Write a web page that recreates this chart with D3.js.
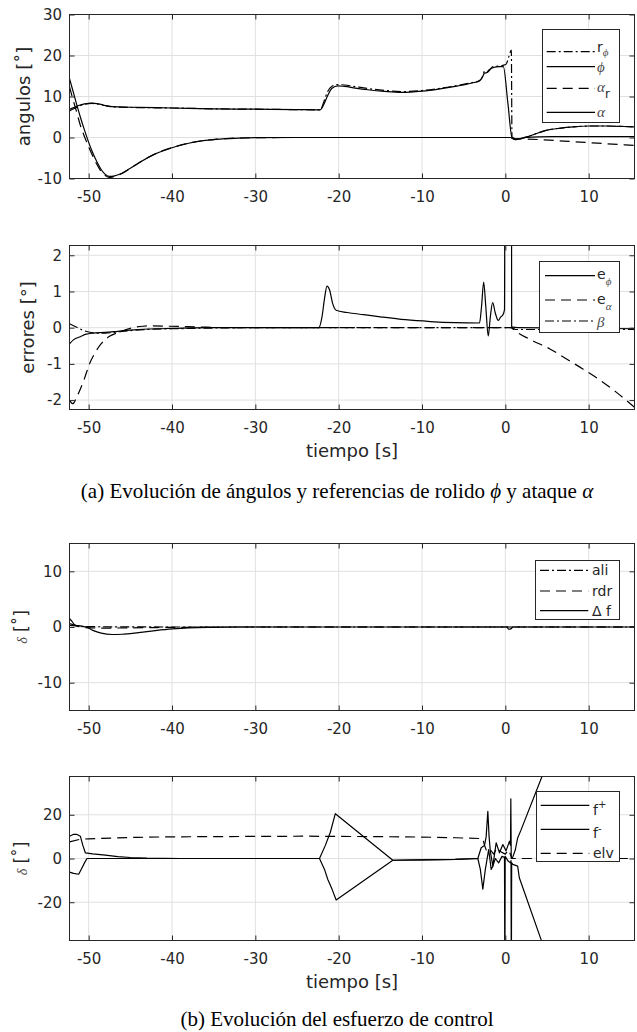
<!DOCTYPE html>
<html lang="es">
<head>
<meta charset="utf-8">
<title>Evolución de ángulos y esfuerzo de control</title>
<script src="https://cdn.jsdelivr.net/npm/d3@7/dist/d3.min.js"></script>
<style>
  html, body { margin: 0; padding: 0; background: #fff; }
  svg { display: block; }
</style>
</head>
<body>
<svg id="fig" width="637" height="1032"></svg>
<script>
// ---------- shared time axis [s] ----------
const timeDomain = [-52.3, 15.5];
const timeTicks = [-50, -40, -30, -20, -10, 0, 10];

// ---------- (a) top: roll / attack angles and references [deg] ----------
const angleTicks = [-10, 0, 10, 20, 30];
const rPhi = [[-52.3, 6.5], [-51.8, 7.0], [-51.2, 7.6], [-50.5, 8.1], [-49.6, 8.3], [-48.7, 8.1], [-47.8, 7.65], [-46.5, 7.4], [-44, 7.3], [-40, 7.2], [-35, 7.0], [-30, 6.9], [-25, 6.8], [-22.2, 6.75], [-21.8, 8.6], [-21.3, 11.3], [-20.8, 12.5], [-20.1, 12.9], [-19.3, 12.8], [-18, 12.4], [-16.5, 11.95], [-14.5, 11.5], [-12.5, 11.2], [-10, 11.45], [-8, 11.95], [-6, 12.6], [-4, 13.4], [-3.1, 13.9], [-2.7, 15.0], [-2.5, 16.2], [-2.2, 15.9], [-1.9, 16.4], [-1.5, 17.3], [-0.9, 17.4], [-0.3, 17.6], [0.1, 17.9], [0.4, 19.6], [0.72, 21.3], [0.8, 0.1], [1.2, -0.4], [1.7, -0.3], [2.5, 0.1], [3.5, 0.8], [4.5, 1.5], [5.3, 1.9], [6.3, 2.2], [7.3, 2.45], [8.5, 2.65], [10, 2.8], [12, 2.8], [14, 2.7], [15.5, 2.6]];
const phi = [[-52.3, 6.9], [-51.8, 7.3], [-51.2, 7.8], [-50.5, 8.2], [-49.6, 8.4], [-48.7, 8.15], [-47.8, 7.7], [-46.5, 7.45], [-44, 7.35], [-40, 7.2], [-35, 7.0], [-30, 6.9], [-25, 6.8], [-22.2, 6.75], [-21.8, 8.0], [-21.3, 10.3], [-20.8, 12.0], [-20.1, 12.6], [-19.3, 12.45], [-18, 12.05], [-16.5, 11.65], [-14.5, 11.25], [-12.5, 11.0], [-10, 11.3], [-8, 11.8], [-6, 12.45], [-4, 13.3], [-3.1, 13.8], [-2.8, 14.5], [-2.5, 15.7], [-2.25, 15.8], [-2.0, 16.4], [-1.5, 17.0], [-0.7, 17.3], [-0.24, 17.3], [0.3, 8.5], [0.8, 0.0], [1.2, -0.4], [1.7, -0.3], [2.5, 0.1], [3.5, 0.8], [4.5, 1.5], [5.3, 1.9], [6.3, 2.2], [7.3, 2.45], [8.5, 2.65], [10, 2.8], [12, 2.8], [14, 2.7], [15.5, 2.6]];
const alphaR = [[-52.3, 12.4], [-52, 10.1], [-51.5, 6.6], [-51, 3.0], [-50.5, 0.2], [-50, -2.3], [-49.5, -4.6], [-49, -6.6], [-48.5, -8.3], [-48, -9.3], [-47.5, -9.75], [-47, -9.55], [-46, -8.8], [-45, -7.55], [-44, -6.2], [-42, -3.95], [-40, -2.46], [-38, -1.38], [-36, -0.68], [-34, -0.34], [-30, -0.04], [-25, 0], [0.8, 0], [1.2, -0.3], [2, -0.35], [4, -0.5], [6, -0.75], [8, -1.0], [10, -1.25], [12, -1.5], [14, -1.75], [15.5, -1.95]];
const alpha = [[-52.3, 14.4], [-52, 12.2], [-51.5, 8.5], [-51, 5.0], [-50.5, 1.8], [-50, -1.2], [-49.5, -3.8], [-49, -6.0], [-48.5, -7.8], [-48, -9.0], [-47.5, -9.5], [-47, -9.4], [-46, -8.7], [-45, -7.5], [-44, -6.2], [-42, -4.0], [-40, -2.5], [-38, -1.4], [-36, -0.7], [-34, -0.35], [-32, -0.15], [-30, -0.05], [-25, 0], [0.6, 0], [0.8, -0.2], [1.2, -0.5], [1.7, -0.3], [2.5, 0.0], [4, 0.15], [7, 0.2], [15.5, 0.2]];

// ---------- (a) bottom: tracking errors and sideslip [deg] ----------
const errorTicks = [-2, -1, 0, 1, 2];
const ePhi = [[-52.3, -0.45], [-51.8, -0.33], [-51, -0.25], [-50.3, -0.18], [-49.5, -0.15], [-48, -0.13], [-46.5, -0.1], [-45, -0.07], [-42, -0.03], [-40, -0.02], [-35, 0], [-22.4, 0], [-22.0, 0.3], [-21.7, 0.8], [-21.4, 1.15], [-21.1, 1.05], [-20.7, 0.65], [-20.3, 0.48], [-19, 0.42], [-17, 0.36], [-15, 0.3], [-12, 0.22], [-9, 0.17], [-6, 0.14], [-3.1, 0.13], [-2.85, 0.6], [-2.6, 1.26], [-2.35, 0.6], [-2.05, -0.23], [-1.8, 0.3], [-1.52, 0.69], [-1.2, 0.4], [-0.85, 0.2], [-0.55, 0.3], [-0.3, 0.35], [-0.1, 0.5], [0.0, 12], [0.7, 12], [0.76, 0.02], [1.5, 0], [15.5, -0.03]];
const eAlpha = [[-52.3, -2.0], [-51.9, -2.1], [-51.5, -1.95], [-51.1, -1.75], [-50.5, -1.4], [-49.9, -1.0], [-49.3, -0.72], [-48.7, -0.5], [-48.1, -0.35], [-47.5, -0.24], [-46.3, -0.12], [-45.5, -0.05], [-44.7, 0.0], [-43.5, 0.04], [-42.7, 0.05], [-40.3, 0.04], [-37, 0.02], [-33, 0.0], [0.7, 0], [0.85, -0.02], [1.1, -0.07], [3.2, -0.35], [5.3, -0.58], [7.3, -0.86], [9.3, -1.14], [11.3, -1.44], [13.3, -1.78], [15.5, -2.2]];
const beta = [[-52.3, 0.11], [-51.5, 0.02], [-50.8, -0.06], [-50, -0.12], [-49, -0.15], [-48, -0.15], [-47, -0.13], [-46, -0.1], [-45, -0.08], [-42, -0.04], [-40, -0.03], [-35, -0.01], [-30, 0], [0.8, 0], [1.2, -0.05], [15.5, -0.05]];

// ---------- (b) top: aileron, rudder and differential flap [deg] ----------
const surfaceTicks = [-10, 0, 10];
const ali = [[-52.3, 0.6], [-51.8, 0.4], [-51, 0.1], [-49, 0.05], [-45, 0.02], [-40, 0], [15.5, 0]];
const rdr = [[-52.3, 0.3], [-51.5, 0.2], [-50.5, -0.1], [-48, -0.2], [-45, -0.15], [-42, -0.1], [-38, -0.05], [-34, 0], [15.5, 0]];
const deltaF = [[-52.3, 1.5], [-52, 1.0], [-51.6, 0.3], [-51, 0.2], [-50.3, 0], [-49.5, -0.6], [-48.5, -1.1], [-47.2, -1.35], [-46, -1.3], [-44, -1.0], [-42, -0.65], [-40, -0.35], [-38, -0.15], [-35, -0.05], [-32, 0], [0.2, 0], [0.4, -0.4], [0.7, -0.3], [0.9, 0], [15.5, 0]];

// ---------- (b) bottom: flaps and elevator [deg] ----------
const flapTicks = [-20, 0, 20];
const fPlus = [[-52.3, 10.2], [-51.8, 11.1], [-51.4, 11.0], [-51.0, 10.2], [-50.7, 6], [-50.4, 2.6], [-49.5, 2.1], [-48, 1.5], [-46.5, 0.9], [-45, 0.45], [-43, 0.15], [-41, 0.03], [-39, 0], [-22.3, 0], [-21.6, 6], [-21.0, 12], [-20.4, 20.5], [-13.5, -0.8], [-10, -0.6], [-6, -0.4], [-3.3, 0], [-2.9, 4.9], [-2.5, 5.9], [-2.3, 10], [-2.1, 21.6], [-1.95, 10], [-1.8, 3.3], [-1.5, -3.5], [-1.1, 7.2], [-0.7, 2.6], [-0.3, 6.4], [0.08, 3.5], [0.5, 7.9], [0.62, 6], [0.66, 27.3], [0.71, 0], [0.88, 0.5], [1.2, 4], [1.48, 9.4], [1.9, 13.2], [4.4, 37.5], [5, 43]];
const fMinus = [[-52.3, -6.2], [-51.8, -6.8], [-51.2, -7.2], [-50.9, -5], [-50.5, -2], [-50.2, 0], [-22.3, 0], [-21.7, -5], [-21.3, -9.6], [-20.8, -14], [-20.3, -19], [-13.5, -0.8], [-10, -0.6], [-6, -0.4], [-3.3, 0], [-3.0, -5], [-2.7, -14], [-2.4, -5], [-2.0, 4.1], [-1.7, -5], [-1.5, -3.5], [-1.2, 0], [-0.8, -2], [-0.4, 1], [-0.1, 0.5], [-0.06, -60], [-0.02, 1], [0.3, -1], [0.6, -2], [0.68, -1], [0.72, -60], [0.76, -2], [0.9, -2.7], [1.48, -3.5], [1.68, -8.8], [4.28, -37], [5, -45]];
const elv = [[-52.3, 7.6], [-51, 8.8], [-50, 9.0], [-47, 9.4], [-44, 9.7], [-40, 9.9], [-35, 10.0], [-30, 10.1], [-24, 10.2], [-20, 10.1], [-15, 10.0], [-10, 9.8], [-6, 9.5], [-2.7, 9.1], [-2.5, 6], [-2.2, 3], [-1.8, 4], [-1.4, 2], [-1.0, 5], [-0.5, 3], [0.0, 2], [0.4, 4], [0.8, 0], [15.5, 0]];

// ---------- styling ----------
const SANS = "'DejaVu Sans', Verdana, sans-serif";
const SERIF = "'Liberation Serif', 'DejaVu Serif', serif";
const INK = '#262626';
const GREEK = '#4a4a4a';
const GRID = '#e0e0e0';
const DASH = '10,6';
const DASHDOT = '9,3,2,3';
const PLOT_LEFT = 69.5, PLOT_RIGHT = 634.5, TICK = 5;

const svg = d3.select('#fig');
const x = d3.scaleLinear().domain(timeDomain).range([PLOT_LEFT, PLOT_RIGHT]);

// writes a run of text pieces (plain, greek italic, sub/superscript) into a <text>
function writeParts(textSel, parts, baseY) {
  parts.forEach(p => {
    const ts = textSel.append('tspan')
      .attr('font-family', p.g ? SERIF : SANS)
      .attr('font-style', p.g ? 'italic' : null)
      .attr('fill', p.g ? GREEK : INK)
      .text(p.t);
    if (p.s) ts.attr('font-size', p.s);
    if (baseY !== undefined) ts.attr('y', baseY + (p.dy || 0));
  });
}

const panels = [
  {
    top: 14.5, bottom: 178.5, yDomain: [-10, 30], yTicks: angleTicks,
    yLabel: [{ t: 'angulos [˚]' }], yLabelX: 30, yLabelSize: 18,
    timeLabel: false, curve: d3.curveMonotoneX,
    series: [
      { data: rPhi, dash: DASHDOT, parts: [{ t: 'r' }, { t: 'ϕ', g: true, s: 11, dy: 4 }], ly: 51.7, ty: 51.5 },
      { data: phi, parts: [{ t: 'ϕ', g: true, s: 15 }], ly: 66.7, ty: 71.5 },
      { data: alphaR, dash: DASH, parts: [{ t: 'α', g: true, s: 15 }, { t: 'r', s: 12, dy: 5.5 }], ly: 88.3, ty: 92.3 },
      { data: alpha, parts: [{ t: 'α', g: true, s: 15 }], ly: 112.3, ty: 117 }
    ],
    legend: { box: [542.5, 29.5, 619.5, 122.5], line: [546.7, 595], textX: 597 }
  },
  {
    top: 245.5, bottom: 409.5, yDomain: [-2.26, 2.27], yTicks: errorTicks,
    yLabel: [{ t: 'errores [°]' }], yLabelX: 34, yLabelSize: 18,
    timeLabel: true, curve: d3.curveMonotoneX,
    series: [
      { data: ePhi, parts: [{ t: 'e' }, { t: 'ϕ', g: true, s: 11, dy: 6 }], ly: 275.7, ty: 278.5 },
      { data: eAlpha, dash: DASH, parts: [{ t: 'e' }, { t: 'α', g: true, s: 11, dy: 6 }], ly: 300, ty: 303.5 },
      { data: beta, dash: DASHDOT, parts: [{ t: 'β', g: true, s: 15 }], ly: 321, ty: 326.5 }
    ],
    legend: { box: [539.5, 261.5, 619.5, 332.5], line: [545, 595], textX: 597 }
  },
  {
    top: 543.5, bottom: 710.5, yDomain: [-15, 15], yTicks: surfaceTicks,
    yLabel: [{ t: 'δ', g: true, s: 14 }, { t: ' [˚]' }], yLabelX: 27, yLabelSize: 17,
    timeLabel: false, curve: d3.curveMonotoneX,
    series: [
      { data: ali, dash: DASHDOT, parts: [{ t: 'ali' }], ly: 570.3, ty: 575 },
      { data: rdr, dash: DASH, parts: [{ t: 'rdr' }], ly: 591, ty: 596 },
      { data: deltaF, parts: [{ t: 'Δ f' }], ly: 610.7, ty: 615.8 }
    ],
    legend: { box: [535.5, 560.5, 619.5, 619.5], line: [540, 588.3], textX: 592 }
  },
  {
    top: 776.5, bottom: 940.5, yDomain: [-37.5, 37.5], yTicks: flapTicks,
    yLabel: [{ t: 'δ', g: true, s: 14 }, { t: ' [˚]' }], yLabelX: 27, yLabelSize: 17,
    timeLabel: true, curve: d3.curveLinear,
    series: [
      { data: fPlus, parts: [{ t: 'f' }, { t: '+', s: 10, dy: -6.5 }], ly: 805.3, ty: 814.5 },
      { data: fMinus, parts: [{ t: 'f' }, { t: '-', s: 10, dy: -6.5 }], ly: 829.3, ty: 838 },
      { data: elv, dash: DASH, parts: [{ t: 'elv' }], ly: 853.3, ty: 858 }
    ],
    legend: { box: [536.5, 791.5, 619.5, 861.5], line: [540.7, 589.3], textX: 593 }
  }
];

panels.forEach((p, i) => {
  const y = d3.scaleLinear().domain(p.yDomain).range([p.bottom, p.top]);
  const g = svg.append('g');
  const clipId = 'clip' + i;
  svg.append('clipPath').attr('id', clipId).append('rect')
    .attr('x', PLOT_LEFT).attr('y', p.top)
    .attr('width', PLOT_RIGHT - PLOT_LEFT).attr('height', p.bottom - p.top);

  // grid
  g.append('g').selectAll('line').data(timeTicks).join('line')
    .attr('x1', d => x(d)).attr('x2', d => x(d)).attr('y1', p.top).attr('y2', p.bottom)
    .attr('stroke', GRID).attr('stroke-width', 1);
  g.append('g').selectAll('line').data(p.yTicks).join('line')
    .attr('x1', PLOT_LEFT).attr('x2', PLOT_RIGHT).attr('y1', d => y(d)).attr('y2', d => y(d))
    .attr('stroke', GRID).attr('stroke-width', 1);

  // data
  const line = d3.line().x(d => x(d[0])).y(d => y(d[1])).curve(p.curve);
  const lines = g.append('g').attr('clip-path', `url(#${clipId})`);
  p.series.forEach(s => {
    lines.append('path').datum(s.data)
      .attr('d', line).attr('fill', 'none')
      .attr('stroke', '#000').attr('stroke-width', 1.2)
      .attr('stroke-linejoin', 'round')
      .attr('stroke-dasharray', s.dash || null);
  });

  // axes: labelled bottom/left, tick-only top/right, ticks pointing inward
  const fmt = d => String(d);
  const styleAxis = sel => {
    sel.select('.domain').remove();
    sel.selectAll('line').attr('stroke', INK);
    sel.selectAll('text').attr('fill', INK).attr('font-family', SANS).attr('font-size', 15);
  };
  g.append('g').attr('transform', `translate(0,${p.bottom})`)
    .call(d3.axisBottom(x).tickValues(timeTicks).tickFormat(fmt).tickSize(-TICK).tickPadding(12.4))
    .call(styleAxis);
  g.append('g').attr('transform', `translate(0,${p.top})`)
    .call(d3.axisTop(x).tickValues(timeTicks).tickFormat('').tickSize(-TICK))
    .call(styleAxis);
  g.append('g').attr('transform', `translate(${PLOT_LEFT},0)`)
    .call(d3.axisLeft(y).tickValues(p.yTicks).tickFormat(fmt).tickSize(-TICK).tickPadding(7.5))
    .call(styleAxis);
  g.append('g').attr('transform', `translate(${PLOT_RIGHT},0)`)
    .call(d3.axisRight(y).tickValues(p.yTicks).tickFormat('').tickSize(-TICK))
    .call(styleAxis);

  g.append('rect').attr('x', PLOT_LEFT).attr('y', p.top)
    .attr('width', PLOT_RIGHT - PLOT_LEFT).attr('height', p.bottom - p.top)
    .attr('fill', 'none').attr('stroke', INK).attr('stroke-width', 1);

  // axis labels
  const yl = g.append('text')
    .attr('transform', `translate(${p.yLabelX},${(p.top + p.bottom) / 2}) rotate(-90)`)
    .attr('text-anchor', 'middle').attr('font-family', SANS)
    .attr('font-size', p.yLabelSize).attr('fill', INK);
  writeParts(yl, p.yLabel);
  if (p.timeLabel) {
    g.append('text').attr('x', (PLOT_LEFT + PLOT_RIGHT) / 2).attr('y', p.bottom + 47)
      .attr('text-anchor', 'middle').attr('font-family', SANS).attr('font-size', 18)
      .attr('fill', INK).text('tiempo [s]');
  }

  // legend
  const L = p.legend;
  const lg = g.append('g');
  lg.append('rect').attr('x', L.box[0]).attr('y', L.box[1])
    .attr('width', L.box[2] - L.box[0]).attr('height', L.box[3] - L.box[1])
    .attr('fill', '#fff').attr('stroke', INK).attr('stroke-width', 1);
  p.series.forEach(s => {
    lg.append('line').attr('x1', L.line[0]).attr('x2', L.line[1])
      .attr('y1', s.ly).attr('y2', s.ly)
      .attr('stroke', '#000').attr('stroke-width', 1.2)
      .attr('stroke-dasharray', s.dash || null);
    const t = lg.append('text').attr('x', L.textX).attr('y', s.ty)
      .attr('font-family', SANS).attr('font-size', 14).attr('fill', INK);
    writeParts(t, s.parts, s.ty);
  });
});

// figure captions
function caption(yBase, parts) {
  const t = svg.append('text').attr('x', 337).attr('y', yBase)
    .attr('text-anchor', 'middle').attr('font-family', SERIF)
    .attr('font-size', 21).attr('fill', '#000');
  parts.forEach(p => {
    t.append('tspan').attr('font-style', p.g ? 'italic' : null).text(p.t);
  });
}
caption(498, [{ t: '(a) Evolución de ángulos y referencias de rolido ' }, { t: 'ϕ', g: true }, { t: ' y ataque ' }, { t: 'α', g: true }]);
caption(1026, [{ t: '(b) Evolución del esfuerzo de control' }]);
</script>
</body>
</html>
